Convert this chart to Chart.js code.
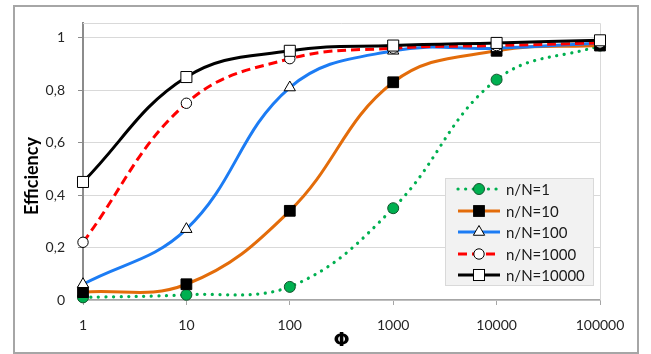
<!DOCTYPE html>
<html>
<head>
<meta charset="utf-8">
<script src="https://cdn.jsdelivr.net/npm/chart.js@4.4.1/dist/chart.umd.min.js"></script>
<style>
  body{ margin:0; background:#fff; font-family:Lato, "Open Sans", sans-serif; }
  #wrap{ position:relative; width:651px; height:354px; }
  #frame{ position:absolute; left:13px; top:5px; width:622px; height:345px; border:2px solid #a6a6a6; pointer-events:none; }
  #ytitle{ position:absolute; left:31px; top:176px; transform:translate(-50%,-50%) rotate(-90deg); font-weight:bold; font-size:18px; color:#000; white-space:nowrap; }
  #legend{ position:absolute; left:445px; top:178px; width:147px; height:106px; background:#f2f2f2; border:1px solid #d9d9d9; }
  .row{ position:absolute; left:10px; height:20px; display:flex; align-items:center; font-size:15px; color:#1a1a1a; }
  .row svg{ margin-right:4px; }
</style>
</head>
<body>
<div id="wrap">
  <canvas id="effChart" width="651" height="354"></canvas>
  <div id="frame"></div>
  <div id="ytitle">Efficiency</div>
  <div id="legend"></div>
</div>
<script>
// DATA
const phi = [1, 10, 100, 1000, 10000, 100000];
const xTickLabels = ["1", "10", "100", "1000", "10000", "100000"];
const yTicks = [0, 0.2, 0.4, 0.6, 0.8, 1];

const eff1 = [0.01, 0.02, 0.05, 0.35, 0.84, 0.97];
const eff10 = [0.03, 0.06, 0.34, 0.83, 0.95, 0.97];
const eff100 = [0.06, 0.27, 0.81, 0.95, 0.96, 0.98];
const eff1000 = [0.22, 0.75, 0.92, 0.96, 0.97, 0.98];
const eff10000 = [0.45, 0.85, 0.95, 0.97, 0.98, 0.99];

const seriesNames = ["n/N=1", "n/N=10", "n/N=100", "n/N=1000", "n/N=10000"];

// STYLES
const styles = [
  { color:"#00b050", dash:[0.1, 7.5], cap:"round", width:3.2, point:"circle", r:5.5, fill:"#00b050", stroke:"#14532d" },
  { color:"#e36c0a", dash:[], cap:"butt", width:3, point:"rect", r:7.6, fill:"#000000", stroke:"#000000" },
  { color:"#1c7cf4", dash:[], cap:"butt", width:3, point:"triangle", r:6.5, fill:"#ffffff", stroke:"#000000" },
  { color:"#ff0000", dash:[9, 5], cap:"butt", width:3, point:"circle", r:5.2, fill:"#ffffff", stroke:"#000000" },
  { color:"#000000", dash:[], cap:"butt", width:3, point:"rect", r:7.8, fill:"#ffffff", stroke:"#000000" }
];

const values = [eff1, eff10, eff100, eff1000, eff10000];

const datasets = values.map((vals, i) => {
  const s = styles[i];
  return {
    label: seriesNames[i],
    data: phi.map((x, j) => ({ x:x, y:vals[j] })),
    borderColor: s.color,
    borderWidth: s.width,
    borderDash: s.dash,
    borderCapStyle: s.cap,
    tension: 0.4,
    pointStyle: s.point,
    pointRadius: s.r,
    pointBackgroundColor: s.fill,
    pointBorderColor: s.stroke,
    pointBorderWidth: 1,
    clip: false,
    order: 5 - i
  };
});

// PLOT AREA BORDER (top + right)
const plotBorder = {
  id: "plotBorder",
  beforeDatasetsDraw(chart){
    const a = chart.chartArea, ctx = chart.ctx;
    ctx.save();
    ctx.strokeStyle = "#d9d9d9";
    ctx.lineWidth = 1;
    ctx.beginPath();
    ctx.moveTo(a.left, a.top + 0.5);
    ctx.lineTo(a.right + 0.5, a.top + 0.5);
    ctx.lineTo(a.right + 0.5, a.bottom);
    ctx.stroke();
    ctx.restore();
  }
};

new Chart(document.getElementById("effChart"), {
  type: "line",
  data: { datasets },
  plugins: [plotBorder],
  options: {
    responsive: false,
    animation: false,
    devicePixelRatio: 1,
    layout: { padding: { top:23, right:51, left:0, bottom:0 } },
    plugins: { legend: { display:false }, tooltip: { enabled:false } },
    scales: {
      x: {
        type: "logarithmic",
        min: 1,
        max: 100000,
        afterBuildTicks: s => { s.ticks = phi.map(v => ({ value:v })); },
        afterFit: s => { s.height = 54; },
        grid: { drawOnChartArea:false, drawTicks:true, tickLength:5, tickColor:"#a6a6a6" },
        border: { color:"#a6a6a6", width:1.5 },
        ticks: {
          padding: 12,
          color: "#262626",
          font: { family:"Lato", size:14 },
          maxRotation: 0,
          autoSkip: false,
          callback: (v, i) => xTickLabels[i]
        },
        title: {
          display: true,
          text: "Φ",
          color: "#000",
          font: { family:"DejaVu Sans", size:19, weight:"bold" },
          padding: { top:0, bottom:2 }
        }
      },
      y: {
        min: 0,
        max: 1.056,
        afterBuildTicks: s => { s.ticks = yTicks.map(v => ({ value:v })); },
        afterFit: s => { s.width = 83; },
        grid: { color:"#d9d9d9", lineWidth:1, drawTicks:true, tickLength:5, tickColor:"#8c8c8c" },
        border: { color:"#8c8c8c", width:2 },
        ticks: {
          padding: 13,
          color: "#262626",
          font: { family:"Lato", size:14 },
          callback: v => (v === 0 || v === 1) ? String(v) : v.toFixed(1).replace(".", ",")
        }
      }
    }
  }
});

// LEGEND
const legend = document.getElementById("legend");
const markerSvg = s => {
  if(s.point === "circle"){
    return `<circle cx="23" cy="10" r="${s.r}" fill="${s.fill}" stroke="${s.stroke}" stroke-width="1"/>`;
  }
  if(s.point === "rect"){
    const h = s.r * Math.SQRT1_2;
    return `<rect x="${23 - h}" y="${10 - h}" width="${2 * h}" height="${2 * h}" fill="${s.fill}" stroke="${s.stroke}" stroke-width="1"/>`;
  }
  const r = s.r;
  const p = [[23, 10 - r], [23 + r * 0.866, 10 + r * 0.5], [23 - r * 0.866, 10 + r * 0.5]];
  return `<polygon points="${p.map(q => q.join(",")).join(" ")}" fill="${s.fill}" stroke="${s.stroke}" stroke-width="1"/>`;
};
seriesNames.forEach((name, i) => {
  const s = styles[i];
  const dash = s.dash.length ? `stroke-dasharray="${s.dash.join(" ")}"` : "";
  const row = document.createElement("div");
  row.className = "row";
  row.style.top = (i * 21.5) + "px";
  row.innerHTML = `
    <svg width="46" height="20">
      <line x1="2" y1="10" x2="44" y2="10" stroke="${s.color}" stroke-width="${s.width}" stroke-linecap="${s.cap}" ${dash}/>
      ${markerSvg(s)}
    </svg>${name}`;
  legend.appendChild(row);
});
</script>
</body>
</html>
